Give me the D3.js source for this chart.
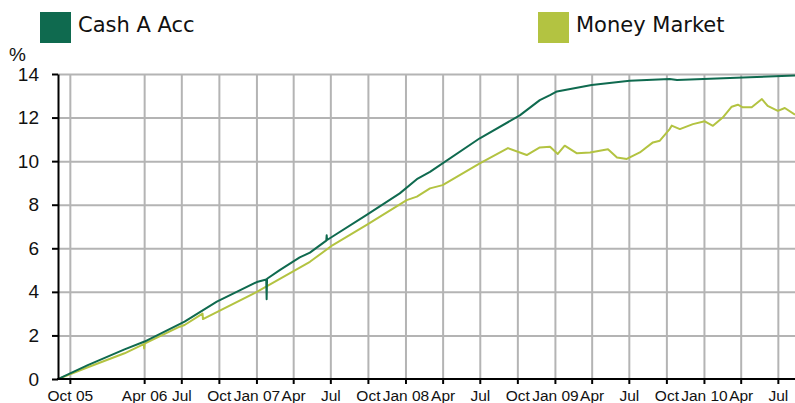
<!DOCTYPE html>
<meta charset="utf-8">
<style>
body { margin: 0; background: #fff; }
svg { display: block; }
.grid line { stroke: #b4b4b4; stroke-width: 2px; }
.grid .domain { display: none; }
.axis { font-family: Arial, "Liberation Sans", sans-serif; }
.axis .domain, .axis line { stroke: #000; stroke-width: 2px; }
.axis text { fill: #111; }
.legend text { font-family: "DejaVu Sans", Verdana, sans-serif; font-size: 21px; fill: #111; }
.line { fill: none; stroke-width: 2px; stroke-linejoin: round; }
</style>
<svg width="795" height="403"></svg>
<script src="https://cdn.jsdelivr.net/npm/d3@7"></script>
<script>
// series names and colours
var seriesNames = ["Cash A Acc", "Money Market"];
var seriesColors = ["#0f6a4f", "#b3c341"];

// Cash A Acc, cumulative %
var cashDates = ["2005-09-02","2005-11-14","2006-02-12","2006-04-02","2006-07-09","2006-09-26",
  "2007-01-02","2007-01-25","2007-01-26","2007-01-27","2007-02-27","2007-04-17","2007-05-12",
  "2007-06-21","2007-06-22","2007-06-23","2007-09-28","2007-12-18","2008-01-31","2008-03-01",
  "2008-07-01","2008-10-07","2008-11-25","2008-12-20","2009-01-06","2009-04-01","2009-07-03",
  "2009-10-09","2009-10-27","2010-04-23","2010-08-12"];
var cashValues = [0, 0.64, 1.36, 1.72, 2.63, 3.55,
  4.45, 4.57, 3.66, 4.6, 5.0, 5.58, 5.8,
  6.35, 6.6, 6.38, 7.53, 8.52, 9.2, 9.51,
  11.05, 12.1, 12.8, 13.03, 13.2, 13.5, 13.69,
  13.77, 13.72, 13.85, 13.93];

// Money Market, cumulative %
var mmDates = ["2005-09-02","2005-11-14","2006-02-12","2006-03-31","2006-04-01","2006-04-02",
  "2006-06-27","2006-07-09","2006-08-22","2006-08-23","2007-01-02","2007-05-12","2007-07-07",
  "2007-09-28","2008-01-04","2008-01-29","2008-03-01","2008-04-01","2008-07-01","2008-09-08",
  "2008-10-24","2008-11-25","2008-12-20","2009-01-08","2009-01-25","2009-02-24","2009-03-28",
  "2009-05-11","2009-06-02","2009-06-26","2009-07-28","2009-08-29","2009-09-15","2009-10-09",
  "2009-10-14","2009-11-03","2009-12-05","2010-01-03","2010-01-23","2010-02-16","2010-03-10",
  "2010-03-25","2010-04-06","2010-04-28","2010-05-23","2010-06-06","2010-07-01","2010-07-18",
  "2010-08-12"];
var mmValues = [0, 0.54, 1.18, 1.6, 1.4, 1.62,
  2.4, 2.48, 3.0, 2.75, 4.0, 5.38, 6.15,
  7.07, 8.21, 8.37, 8.75, 8.9, 9.9, 10.6,
  10.28, 10.63, 10.66, 10.33, 10.71, 10.36, 10.4,
  10.55, 10.17, 10.1, 10.4, 10.86, 10.94, 11.47,
  11.63, 11.47, 11.7, 11.83, 11.62, 12.0, 12.5,
  12.59, 12.47, 12.47, 12.85, 12.54, 12.31, 12.44,
  12.13];

// axis ticks
var xTickDates = ["2005-10-01","2006-04-01","2006-07-01","2006-10-01","2007-01-01","2007-04-01",
  "2007-07-01","2007-10-01","2008-01-01","2008-04-01","2008-07-01","2008-10-01","2009-01-01",
  "2009-04-01","2009-07-01","2009-10-01","2010-01-01","2010-04-01","2010-07-01"];
var xTickLabels = ["Oct 05","Apr 06","Jul","Oct","Jan 07","Apr","Jul","Oct","Jan 08","Apr",
  "Jul","Oct","Jan 09","Apr","Jul","Oct","Jan 10","Apr","Jul"];
var yTicks = [0, 2, 4, 6, 8, 10, 12, 14];

var parse = d3.timeParse("%Y-%m-%d");

var svg = d3.select("svg"),
    plotLeft = 58, plotRight = 795, plotTop = 74, plotBottom = 379;

var x = d3.scaleTime()
    .domain([parse("2005-09-02"), parse("2010-08-12")])
    .range([plotLeft, plotRight]);

var y = d3.scaleLinear()
    .domain([0, 14])
    .range([plotBottom, plotTop]);

var tickDates = xTickDates.map(parse);

// grid
svg.append("g")
    .attr("class", "grid")
    .attr("transform", "translate(0," + plotBottom + ")")
    .call(d3.axisBottom(x).tickValues(tickDates).tickSize(-(plotBottom - plotTop)).tickFormat(""));

svg.append("g")
    .attr("class", "grid")
    .attr("transform", "translate(" + plotLeft + ",0)")
    .call(d3.axisLeft(y).tickValues(yTicks.slice(1)).tickSize(-(plotRight - plotLeft)).tickFormat(""));

// lines
svg.append("defs").append("clipPath")
    .attr("id", "clip")
  .append("rect")
    .attr("x", plotLeft)
    .attr("y", 0)
    .attr("width", plotRight - plotLeft)
    .attr("height", plotBottom);

var line = d3.line()
    .x(function(d) { return x(d.date); })
    .y(function(d) { return y(d.value); });

function toData(dates, values) {
  return dates.map(function(d, i) { return {date: parse(d), value: values[i]}; });
}

var lineG = svg.append("g").attr("clip-path", "url(#clip)");

lineG.append("path")
    .datum(toData(mmDates, mmValues))
    .attr("class", "line")
    .attr("stroke", seriesColors[1])
    .attr("d", line);

lineG.append("path")
    .datum(toData(cashDates, cashValues))
    .attr("class", "line")
    .attr("stroke", seriesColors[0])
    .attr("d", line);

// axes
var xAxis = svg.append("g")
    .attr("class", "axis")
    .attr("transform", "translate(0," + plotBottom + ")")
    .call(d3.axisBottom(x)
      .tickValues(tickDates)
      .tickFormat(function(d, i) { return xTickLabels[i]; })
      .tickSizeInner(5)
      .tickSizeOuter(0)
      .tickPadding(6));
xAxis.selectAll("text").attr("font-size", 15.5);
xAxis.select(".domain").attr("d", "M" + (plotLeft - 1) + ",0H" + plotRight);

var yAxis = svg.append("g")
    .attr("class", "axis")
    .attr("transform", "translate(" + plotLeft + ",0)")
    .call(d3.axisLeft(y)
      .tickValues(yTicks)
      .tickSizeInner(6)
      .tickSizeOuter(0)
      .tickPadding(13));
yAxis.selectAll("text").attr("font-size", 19);

svg.append("text")
    .attr("x", 9)
    .attr("y", 61)
    .attr("font-family", "Arial, 'Liberation Sans', sans-serif")
    .attr("font-size", 19)
    .attr("fill", "#111")
    .text("%");

// legend
var legendX = [40, 538];
var legend = svg.append("g").attr("class", "legend")
  .selectAll("g")
  .data(seriesNames)
  .enter().append("g")
    .attr("transform", function(d, i) { return "translate(" + legendX[i] + ",12)"; });

legend.append("rect")
    .attr("width", 31)
    .attr("height", 31)
    .attr("fill", function(d, i) { return seriesColors[i]; });

legend.append("text")
    .attr("x", 38)
    .attr("y", 20)
    .text(function(d) { return d; });
</script>
